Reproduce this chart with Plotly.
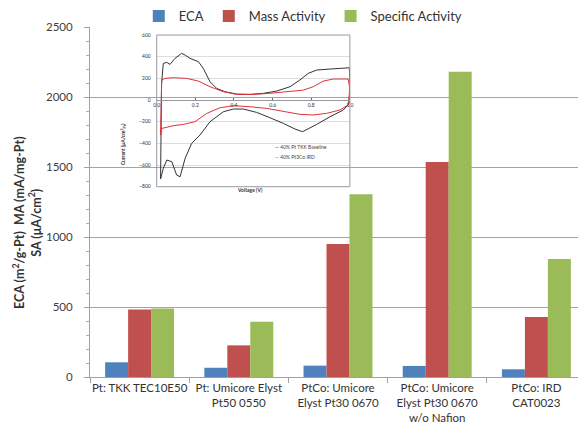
import plotly.graph_objects as go

# ---- Main bar chart data ----
categories = [
    "Pt: TKK TEC10E50",
    "Pt: Umicore Elyst<br>Pt50 0550",
    "PtCo: Umicore<br>Elyst Pt30 0670",
    "PtCo: Umicore<br>Elyst Pt30 0670<br>w/o Nafion",
    "PtCo: IRD<br>CAT0023",
]
eca = [105, 66, 81, 79, 55]
mass_activity = [483, 226, 950, 1536, 429]
specific_activity = [490, 395, 1305, 2180, 843]

# ---- Inset cyclic voltammogram data (voltage V, current uA/cm2) ----
baseline_v = [0.02, 0.025, 0.034, 0.052, 0.069, 0.095, 0.129, 0.147, 0.172, 0.216, 0.241, 0.276,
              0.31, 0.353, 0.414, 0.483, 0.552, 0.621, 0.69, 0.741, 0.784, 0.828, 0.897, 0.948,
              0.997, 1.0, 0.997, 0.966, 0.897, 0.828, 0.776, 0.755, 0.716, 0.655, 0.586, 0.517,
              0.448, 0.397, 0.345, 0.276, 0.224, 0.181, 0.147, 0.121, 0.103, 0.078, 0.052, 0.034,
              0.02]
baseline_i = [-729, 150, 338, 348, 329, 385, 431, 415, 385, 354, 292, 169,
              108, 77, 55, 52, 62, 83, 123, 185, 246, 277, 286, 292,
              298, 150, -31, -92, -154, -225, -277, -292, -268, -215, -163, -114,
              -83, -83, -108, -200, -323, -400, -538, -708, -692, -569, -554, -631,
              -729]
ird_v = [0.02, 0.023, 0.026, 0.043, 0.086, 0.155, 0.216, 0.276, 0.345, 0.414, 0.5, 0.586,
         0.69, 0.759, 0.81, 0.862, 0.914, 0.991, 0.998, 0.997, 0.991, 0.948, 0.879, 0.81,
         0.741, 0.655, 0.569, 0.483, 0.397, 0.328, 0.259, 0.198, 0.138, 0.086, 0.043, 0.026,
         0.02]
ird_i = [-323, 0, 185, 200, 206, 200, 175, 123, 77, 52, 52, 62,
         77, 92, 123, 175, 194, 194, 120, 62, -46, -92, -123, -138,
         -132, -102, -77, -62, -52, -71, -123, -200, -225, -237, -255, -262,
         -323]

inset_y_ticks = [-800, -600, -400, -200, 0, 200, 400, 600]
inset_x_ticks = [0.0, 0.2, 0.4, 0.6, 0.8, 1.0]

FONT = "Lato, 'Liberation Sans', sans-serif"
BLUE, RED, GREEN = "#4F81BD", "#C0504D", "#9BBB59"

fig = go.Figure()
for name, vals, col in [("ECA", eca, BLUE), ("Mass Activity", mass_activity, RED),
                        ("Specific Activity", specific_activity, GREEN)]:
    fig.add_trace(go.Bar(x=categories, y=vals, name=name, marker=dict(color=col, line=dict(width=0)),
                         xaxis="x", yaxis="y"))

fig.add_trace(go.Scatter(x=baseline_v, y=baseline_i, mode="lines", name="40% Pt TKK Baseline",
                         line=dict(color="#333333", width=1), xaxis="x2", yaxis="y2", showlegend=False))
fig.add_trace(go.Scatter(x=ird_v, y=ird_i, mode="lines", name="40% Pt3Co IRD",
                         line=dict(color="#e0303a", width=1), xaxis="x2", yaxis="y2", showlegend=False))

# inset geometry (paper fractions)
ix0, ix1 = 0.1345, 0.524
iy0, iy1 = 0.5437, 0.977
ymin, ymax = -800, 600
zero_pos = iy0 + (0 - ymin) / (ymax - ymin) * (iy1 - iy0)

# page body adds an 8px offset; compensate so the plot lands where the reference has it
fig.update_layout(
    width=578, height=424,
    margin=dict(l=82, r=0, t=19, b=55, autoexpand=False),
    paper_bgcolor="white", plot_bgcolor="rgba(0,0,0,0)",
    font=dict(family=FONT, color="#404040"),
    barmode="group", bargap=0.305, bargroupgap=0,
    legend=dict(orientation="h", x=0.43, xanchor="center", y=1.031, yanchor="middle",
                font=dict(size=13, color="#333333"), itemwidth=30, tracegroupgap=0,
                bgcolor="rgba(0,0,0,0)"),
    xaxis=dict(domain=[0, 1], showline=True, linecolor="#a0a0a0", linewidth=1,
               ticks="outside", ticklen=5, tickcolor="#a0a0a0", tickson="boundaries",
               tickangle=0, automargin=False,
               tickfont=dict(size=11.5, color="#333333"), showgrid=False),
    yaxis=dict(domain=[0, 1], range=[0, 2500], dtick=500, showline=True, linecolor="#a0a0a0",
               linewidth=1, ticks="outside", ticklen=5, tickcolor="#a0a0a0", automargin=False,
               gridcolor="#a4a4a4", gridwidth=1.2, zeroline=False,
               tickfont=dict(size=11.5, color="#404040"), ticklabelstandoff=9,
               minor=dict(dtick=100, ticks="outside", ticklen=3, tickcolor="#b0b0b0", showgrid=False)),
    xaxis2=dict(domain=[ix0, ix1], range=[0, 1], anchor="free", position=zero_pos,
                tickvals=inset_x_ticks, ticktext=[f"{v:.1f}" for v in inset_x_ticks],
                showline=True, linecolor="#999999", linewidth=1, ticks="inside", ticklen=2,
                tickcolor="#666666", showgrid=False, zeroline=False, automargin=False,
                tickangle=0, tickfont=dict(size=5, color="#333333")),
    yaxis2=dict(domain=[iy0, iy1], range=[ymin, ymax], anchor="x2", tickvals=inset_y_ticks,
                showline=False, ticks="", showgrid=True, gridcolor="#dddddd", gridwidth=0.8,
                zeroline=False, automargin=False, tickfont=dict(size=5, color="#333333"),
                ticklabelstandoff=5),
    shapes=[dict(type="rect", xref="x2 domain", yref="y2 domain", x0=0, x1=1, y0=0, y1=1,
                 line=dict(color="#9a9a9a", width=1), fillcolor="rgba(0,0,0,0)")],
    annotations=[
        dict(text="<b>ECA (m<sup>2</sup>/g-Pt)  MA (mA/mg-Pt)<br>SA (μA/cm<sup>2</sup>)</b>",
             xref="paper", yref="paper", x=-0.127, y=0.44, textangle=-90, showarrow=False,
             font=dict(size=12.5, color="#333333"), xanchor="center", yanchor="middle"),
        dict(text="<b>Current (μA/cm<sup>2</sup><sub>Pt</sub>)</b>", xref="paper", yref="paper",
             x=0.0565, y=0.729, textangle=-90, showarrow=False, font=dict(size=5, color="#333333")),
        dict(text="<b>Voltage (V)</b>", xref="paper", yref="paper", x=0.292, y=0.534,
             showarrow=False, font=dict(size=5, color="#333333")),
        dict(text="<span style='color:#333333'>—</span> 40% Pt TKK Baseline", xref="paper",
             yref="paper", x=0.369, y=0.657, xanchor="left", showarrow=False,
             font=dict(size=5, color="#444444")),
        dict(text="<span style='color:#e0303a'>—</span> 40% Pt3Co IRD", xref="paper",
             yref="paper", x=0.369, y=0.629, xanchor="left", showarrow=False,
             font=dict(size=5, color="#444444")),
    ],
)

fig.write_html("out.html")
